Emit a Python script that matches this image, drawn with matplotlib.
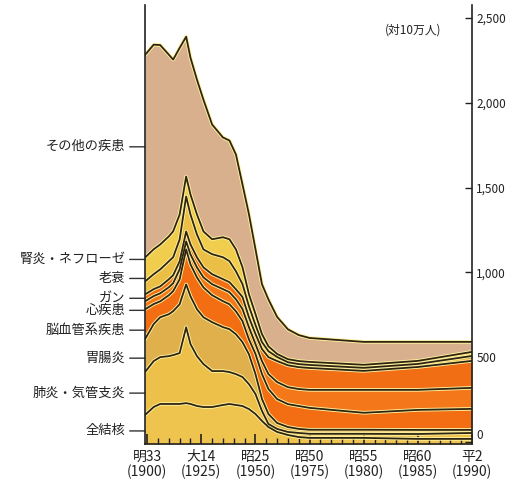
import numpy as np
import matplotlib
matplotlib.use("Agg")
import matplotlib.pyplot as plt
from matplotlib.scale import FuncScale

plt.rcParams['font.family'] = ['Noto Sans CJK JP', 'DejaVu Sans']

years = [1899, 1903, 1906, 1910, 1912, 1915, 1918, 1920, 1923, 1926, 1930, 1935, 1938,
         1941, 1944, 1947, 1950, 1953, 1956, 1960, 1965, 1970, 1975, 1980, 1985, 1990]

# death rates per 100,000, bottom to top
tuberculosis = [159, 206, 224, 224, 224, 224, 229, 224, 212, 206, 206, 218, 224,
                218, 212, 194, 165, 124, 88, 59, 41, 29, 24, 24, 18, 18]
pneumonia = [253, 271, 276, 282, 288, 300, 447, 353, 294, 253, 212, 200, 188,
             182, 171, 147, 118, 59, 18, 18, 18, 24, 24, 24, 29, 35]
gastro = [194, 218, 235, 247, 259, 288, 253, 282, 276, 276, 288, 259, 253,
          235, 206, 176, 118, 71, 59, 35, 29, 24, 24, 24, 24, 18]
cerebro = [176, 118, 94, 112, 118, 147, 206, 188, 188, 176, 159, 153, 147,
           135, 124, 88, 118, 147, 147, 141, 135, 135, 129, 100, 118, 124]
heart = [47, 47, 47, 47, 47, 59, 47, 59, 59, 59, 65, 71, 71,
         71, 71, 71, 59, 76, 88, 100, 100, 100, 106, 135, 118, 124]
cancer = [41, 41, 41, 47, 47, 47, 59, 59, 59, 59, 59, 59, 59,
          59, 71, 59, 59, 71, 100, 124, 129, 129, 129, 112, 135, 159]
senility = [76, 88, 100, 106, 106, 129, 206, 176, 135, 106, 118, 129, 124,
            106, 76, 65, 53, 41, 35, 24, 18, 18, 18, 18, 18, 29]
nephritis = [141, 147, 147, 147, 153, 147, 118, 118, 118, 106, 88, 118, 129,
             129, 100, 71, 65, 47, 29, 18, 18, 18, 18, 18, 18, 24]
others = [1194, 1206, 1176, 1071, 1012, 982, 824, 806, 794, 776, 676, 588, 582,
          559, 488, 471, 382, 294, 276, 218, 176, 153, 141, 135, 112, 59]

series = [tuberculosis, pneumonia, gastro, cerebro, heart, cancer, senility, nephritis, others]
names = ['全結核', '肺炎・気管支炎', '胃腸炎', '脳血管系疾患', '心疾患', 'ガン', '老衰',
         '腎炎・ネフローゼ', 'その他の疾患']
colors = ['#EEC34E', '#EDC04A', '#DFB04C', '#F36E12', '#F4781A', '#F26E14',
          '#EBBE45', '#F0CD4C', '#D9B08E']
label_values = [65, 288, 494, 659, 776, 847, 964, 1076, 1740]

tick_years = [1900, 1925, 1950, 1975, 1980, 1985, 1990]
tick_labels = ['明33\n(1900)', '大14\n(1925)', '昭25\n(1950)', '昭50\n(1975)',
               '昭55\n(1980)', '昭60\n(1985)', '平2\n(1990)']
y_ticks = [0, 500, 1000, 1500, 2000, 2500]
y_tick_labels = ['0', '500', '1,000', '1,500', '2,000', '2,500']

# piecewise axis: 25-year steps up to 1975, then 5-year steps
seg_years = [1850, 1900, 1925, 1950, 1975, 1980, 1985, 1990, 2000]
seg_pos = [-2, 0, 1, 2, 3, 4, 5, 6, 8]
fwd = lambda x: np.interp(x, seg_years, seg_pos)
inv = lambda p: np.interp(p, seg_pos, seg_years)

fig = plt.figure(figsize=(5.2, 4.86), dpi=100)
ax = fig.add_axes([145 / 520, 1 - 444 / 486, 327 / 520, 439 / 486])
ax.set_xscale(FuncScale(ax, (fwd, inv)))

yr = np.array(years)
cum = np.cumsum(np.array(series, dtype=float), axis=0)
lower = np.zeros(len(years)) - 12
for i in range(len(series)):
    ax.fill_between(yr, lower, cum[i], color=colors[i], lw=0, zorder=1)
    lower = cum[i]
for i in range(len(series)):
    ax.plot(yr, cum[i], color='#FFF2A0', lw=2.6, zorder=2, solid_joinstyle='round')
for i in range(len(series)):
    ax.plot(yr, cum[i], color='#2E2410', lw=1.3, zorder=3, solid_joinstyle='round')

ax.set_xlim(1899, 1990)
ax.set_ylim(-12, 2576)

ax.spines['top'].set_visible(False)
for s in ['left', 'right', 'bottom']:
    ax.spines[s].set_color('#222222')
    ax.spines[s].set_linewidth(1.2)
    ax.spines[s].set_zorder(5)

ax.yaxis.tick_right()
ax.set_yticks(y_ticks)
ax.set_yticklabels(y_tick_labels)
ax.tick_params(axis='y', direction='in', length=5, width=1, pad=3, labelsize=8.5, colors='#222222')
ax.get_yticklabels()[0].set_va('bottom')

ax.set_xticks(tick_years)
ax.set_xticklabels(tick_labels)
minor = list(range(1905, 1975, 5)) + list(range(1976, 1990))
ax.set_xticks([m for m in minor if m not in tick_years], minor=True)
ax.tick_params(axis='x', which='major', direction='in', length=7, width=1.2, pad=4,
               labelsize=10, colors='#222222')
ax.tick_params(axis='x', which='minor', direction='in', length=4, width=1, colors='#222222')
for lab in ax.get_xticklabels():
    lab.set_linespacing(1.1)

for name, v in zip(names, label_values):
    ax.annotate(name, xy=(0, v), xycoords=('axes fraction', 'data'),
                xytext=(-14, 0), textcoords='offset points', ha='right', va='center',
                fontsize=9.5, color='#222222',
                arrowprops=dict(arrowstyle='-', color='#333333', lw=1, shrinkA=1, shrinkB=0))

ax.text(0.82, 0.943, '(対10万人)', transform=ax.transAxes, ha='center', va='center',
        fontsize=8.5, color='#222222')

fig.savefig('out.png', dpi=100)
